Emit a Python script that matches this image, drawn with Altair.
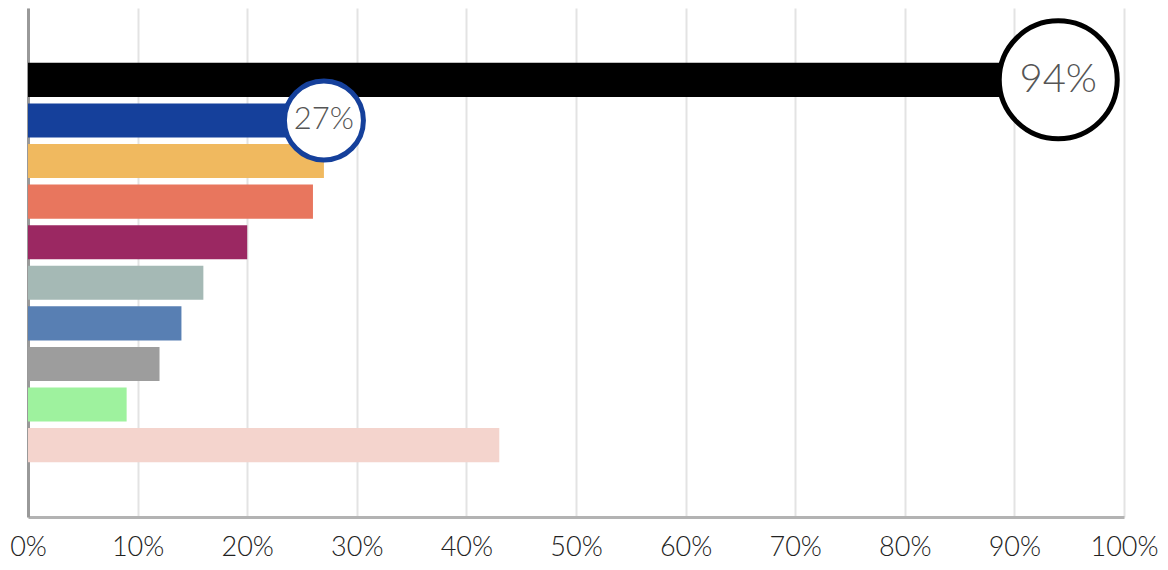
import altair as alt
import pandas as pd

categories = ["Item 1", "Item 2", "Item 3", "Item 4", "Item 5",
              "Item 6", "Item 7", "Item 8", "Item 9", "Item 10"]
values = [94, 27, 27, 26, 20, 16, 14, 12, 9, 43]
colors = ["#000000", "#15409b", "#f0b95f", "#e8765e", "#9b2862",
          "#a5b9b5", "#587fb3", "#9d9d9d", "#9ef29e", "#f4d4cd"]

tick_values = [0, 10, 20, 30, 40, 50, 60, 70, 80, 90, 100]

df = pd.DataFrame({"category": categories, "value": values})

# empty slots above and below the bars give the wide outer gaps
y_domain = [" top"] + categories + [" bottom"]
ysc = alt.Scale(domain=y_domain, paddingInner=0.16, paddingOuter=0.35)
xsc = alt.Scale(domain=[0, 100], nice=False)

x_enc = alt.X(
    "value:Q", scale=xsc,
    axis=alt.Axis(values=tick_values, labelExpr="datum.value + '%'", title=None,
                  grid=True, gridColor="#e3e3e3", gridWidth=2,
                  domainColor="#b3b3b3", domainWidth=3, ticks=False,
                  labelFont="Lato", labelFontSize=27, labelFontWeight=300,
                  labelColor="#222222", labelBaseline="alphabetic",
                  labelPadding=38, labelFlush=False, labelOverlap=False),
)
y_enc = alt.Y(
    "category:N", scale=ysc, sort=y_domain,
    axis=alt.Axis(title=None, labels=False, ticks=False, grid=False,
                  domainColor="#999999", domainWidth=3),
)

bars = alt.Chart(df).mark_bar().encode(
    x=x_enc,
    y=y_enc,
    color=alt.Color("category:N", scale=alt.Scale(domain=categories, range=colors), legend=None),
)

big = df[df["category"] == categories[0]]
small = df[df["category"] == categories[1]]


def badge(data, size, stroke, font_size):
    circ = alt.Chart(data).mark_point(
        shape="circle", size=size, filled=False, fill="white", fillOpacity=1,
        stroke=stroke, strokeWidth=5, opacity=1,
    ).encode(
        x=alt.X("value:Q", scale=xsc),
        y=alt.Y("category:N", scale=ysc, sort=y_domain),
    )
    txt = alt.Chart(data).transform_calculate(
        label="datum.value + '%'"
    ).mark_text(
        font="Lato", fontSize=font_size, fontWeight=300, color="#555555",
        align="center", baseline="middle",
    ).encode(
        x=alt.X("value:Q", scale=xsc),
        y=alt.Y("category:N", scale=ysc, sort=y_domain),
        text="label:N",
    )
    return circ + txt


chart = alt.layer(
    bars,
    badge(small, 79 * 79, "#15409b", 31),
    badge(big, 118 * 118, "#000000", 40),
).properties(
    width=1096, height=509,
    autosize=alt.AutoSizeParams(type="none"),
    padding={"left": 20, "top": 0, "right": 36, "bottom": 45},
).configure(font="Lato").configure_view(stroke=None)

chart.save("out.html", embed_options={"renderer": "svg", "actions": False})
